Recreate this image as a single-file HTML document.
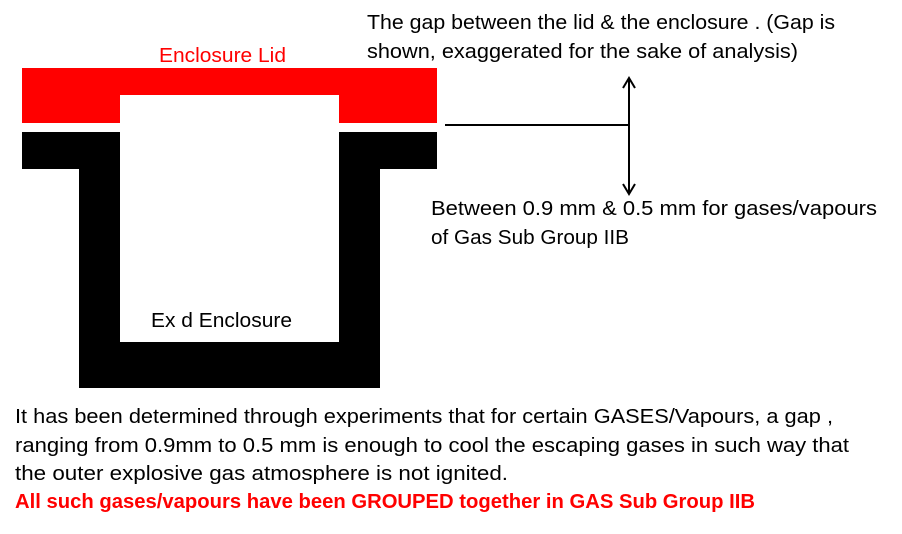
<!DOCTYPE html>
<html><head><meta charset="utf-8"><style>
html,body{margin:0;padding:0;background:#fff;}
svg{display:block;}
text{font-family:"Liberation Sans",sans-serif;font-size:20px;}
</style></head><body>
<svg width="902" height="534" viewBox="0 0 902 534" xmlns="http://www.w3.org/2000/svg">
<rect width="902" height="534" fill="#fff"/>
<!-- lid -->
<path d="M22 68H437V123H339V95H120V123H22Z" fill="#ff0000"/>
<!-- enclosure -->
<path d="M22 132H120V342H339V132H437V169H380V388H79V169H22Z" fill="#000"/>
<!-- connector -->
<line x1="445" y1="125" x2="629" y2="125" stroke="#000" stroke-width="2"/>
<line x1="629" y1="80" x2="629" y2="192" stroke="#000" stroke-width="2"/>
<polyline points="623,88 629,78 635,88" fill="none" stroke="#000" stroke-width="2"/>
<polyline points="623,184 629,194 635,184" fill="none" stroke="#000" stroke-width="2"/>
<!-- labels -->
<text x="159" y="62" fill="#ff0000" textLength="127" lengthAdjust="spacingAndGlyphs">Enclosure Lid</text>
<text x="151" y="327" fill="#000" textLength="141" lengthAdjust="spacingAndGlyphs">Ex d Enclosure</text>
<text x="367" y="29" fill="#000" textLength="468" lengthAdjust="spacingAndGlyphs">The gap between the lid &amp; the enclosure . (Gap is</text>
<text x="367" y="58" fill="#000" textLength="431" lengthAdjust="spacingAndGlyphs">shown, exaggerated for the sake of analysis)</text>
<text x="431" y="215" fill="#000" textLength="446" lengthAdjust="spacingAndGlyphs">Between 0.9 mm &amp; 0.5 mm for gases/vapours</text>
<text x="431" y="244" fill="#000" textLength="198" lengthAdjust="spacingAndGlyphs">of Gas Sub Group IIB</text>
<text x="15" y="423" fill="#000" textLength="818" lengthAdjust="spacingAndGlyphs">It has been determined through experiments that for certain GASES/Vapours, a gap ,</text>
<text x="15" y="452" fill="#000" textLength="834" lengthAdjust="spacingAndGlyphs">ranging from  0.9mm to 0.5 mm is enough to cool the escaping gases in such way that</text>
<text x="15" y="480" fill="#000" textLength="493" lengthAdjust="spacingAndGlyphs">the outer explosive gas atmosphere  is not ignited.</text>
<text x="15" y="508" fill="#ff0000" font-weight="bold" textLength="740" lengthAdjust="spacingAndGlyphs">All such gases/vapours have been GROUPED together in GAS Sub Group IIB</text>
</svg>
</body></html>
